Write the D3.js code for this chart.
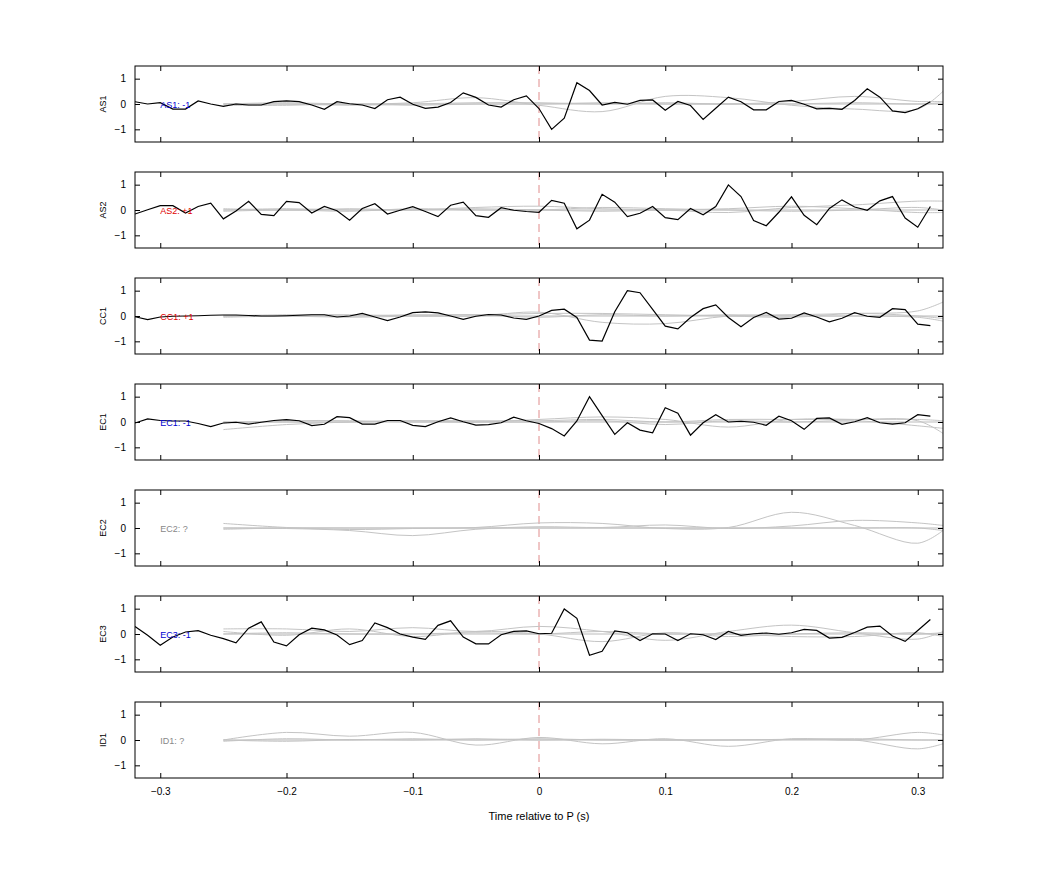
<!DOCTYPE html>
<html><head><meta charset="utf-8">
<script src="https://cdn.jsdelivr.net/npm/d3@7"></script>
<style>body{margin:0;background:#fff}text{font-family:"Liberation Sans",Arial,sans-serif}</style>
</head><body><svg id="c" width="1042" height="875"></svg>
<script>
const stations = ["AS1","AS2","CC1","EC1","EC2","EC3","ID1"];
const labels = ["AS1: -1","AS2: +1","CC1: +1","EC1: -1","EC2: ?","EC3: -1","ID1: ?"];
const labelKinds = ["neg","pos","pos","neg","unk","neg","unk"];
const xTicks = [-0.3,-0.2,-0.1,0,0.1,0.2,0.3];
const yTicks = [-1,0,1];
const blackStart = -0.32, blackStep = 0.01;
const blackAS1 = [0.09,0,0.05,-0.2,-0.2,0.12,0,-0.09,0,-0.04,-0.04,0.09,0.12,0.09,-0.04,-0.21,0.09,0.01,-0.04,-0.18,0.17,0.27,-0.01,-0.17,-0.12,0.06,0.44,0.26,-0.04,-0.12,0.17,0.32,-0.18,-1.0,-0.56,0.84,0.53,-0.04,0.06,-0.01,0.14,0.16,-0.25,0.1,-0.06,-0.61,-0.17,0.27,0.09,-0.23,-0.23,0.1,0.14,-0.01,-0.19,-0.17,-0.21,0.14,0.6,0.27,-0.27,-0.34,-0.19,0.09];
const blackAS2 = [-0.16,0.01,0.17,0.17,-0.12,0.14,0.27,-0.35,-0.04,0.34,-0.17,-0.22,0.34,0.29,-0.12,0.14,-0.03,-0.4,0.06,0.25,-0.16,-0.01,0.13,-0.06,-0.26,0.19,0.31,-0.22,-0.29,0.09,-0.01,-0.06,-0.09,0.38,0.27,-0.74,-0.4,0.62,0.31,-0.26,-0.13,0.14,-0.3,-0.38,0.06,-0.19,0.14,0.99,0.53,-0.42,-0.62,-0.09,0.52,-0.21,-0.58,0.06,0.4,0.12,-0.01,0.36,0.53,-0.32,-0.68,0.14];
const blackCC1 = [-0.03,-0.14,-0.04,-0.01,0,0.01,0.03,0.04,0.04,0.02,0,0,0.01,0.03,0.05,0.05,-0.04,0,0.1,-0.04,-0.18,-0.04,0.13,0.16,0.12,0,-0.13,-0.01,0.06,0.04,-0.08,-0.13,0,0.22,0.27,-0.06,-0.95,-0.99,0.17,1.0,0.92,0.26,-0.4,-0.51,-0.06,0.29,0.44,-0.06,-0.42,-0.06,0.14,-0.12,-0.09,0.12,-0.04,-0.23,-0.09,0.13,-0.01,-0.05,0.29,0.25,-0.32,-0.38];
const blackEC1 = [-0.04,0.12,0.06,0.04,0.04,-0.06,-0.18,-0.04,-0.01,-0.08,-0.01,0.06,0.09,0.05,-0.14,-0.09,0.21,0.17,-0.08,-0.08,0.06,0.06,-0.13,-0.18,0.01,0.16,0.01,-0.12,-0.1,-0.03,0.19,0.05,-0.06,-0.26,-0.55,0.04,1.0,0.25,-0.49,-0.03,-0.32,-0.43,0.56,0.35,-0.52,-0.03,0.29,0,0.03,-0.01,-0.13,0.23,0.05,-0.29,0.14,0.16,-0.09,0.01,0.17,-0.03,-0.08,-0.03,0.29,0.23];
const blackEC3 = [0.3,-0.05,-0.44,-0.12,0.08,0.13,-0.05,-0.18,-0.35,0.23,0.48,-0.32,-0.47,-0.03,0.23,0.16,-0.04,-0.42,-0.26,0.44,0.25,0,-0.12,-0.21,0.34,0.52,-0.12,-0.39,-0.39,-0.03,0.1,0.12,0.01,0.03,0.99,0.62,-0.84,-0.68,0.12,0.05,-0.26,0.01,0,-0.26,0.01,-0.03,-0.22,0.1,-0.05,0.01,0.04,-0.01,0.05,0.18,0.14,-0.16,-0.13,0.06,0.27,0.31,-0.08,-0.29,0.14,0.57];
const blackSeries = [blackAS1, blackAS2, blackCC1, blackEC1, null, blackEC3, null];
const grayT = [-0.25,-0.2,-0.15,-0.1,-0.05,0,0.05,0.1,0.15,0.2,0.25,0.3,0.32];
const grayZero = [0,0,0,0,0,0,0,0,0,0,0,0,0];
const grayAS1 = [[0,0.05,0,0.05,0.25,-0.05,-0.3,0.3,0.25,-0.05,-0.2,-0.2,0.5],[0,0,-0.05,0,0.05,0.05,0,0.05,0,0.1,0.3,0.1,0.1],[-0.05,-0.05,0,-0.05,0,0,0.05,0,0,0,0.05,0,0.05]];
const grayAS2 = [[0.05,0,0.05,0,0.1,0.15,0.05,0,-0.1,0.1,0.2,0.35,0.35],[-0.05,0,-0.05,0.05,0,0,0.1,0.05,0,-0.05,0,0.1,0],[0,0.05,0,0,0.05,0,-0.05,0,0.05,0.15,0.05,-0.1,-0.1]];
const grayCC1 = [[0,0.05,0.05,0,0,0.15,-0.25,-0.3,0,0.05,0.1,0.2,0.55],[-0.05,0,0,0.05,0.05,0.1,0.1,0.05,0,-0.05,0.1,0,-0.1],[0,0,-0.05,0,0.05,-0.05,0.05,0,0.05,0,0,-0.05,-0.2]];
const grayEC1 = [[-0.3,-0.1,0,0.05,0,0.1,0.2,0.1,-0.2,0.1,0.1,0.05,-0.45],[-0.05,0.05,0.05,0,0,0,0.05,-0.1,0.05,0,0.05,-0.15,-0.25],[0,0,0,0.05,0.05,0.05,0.1,0,0.1,0.1,0.1,0.1,0.05]];
const grayEC2 = [[0.18,0.02,-0.06,-0.02,0.02,0.2,0.18,-0.02,0.02,0.62,0.1,-0.6,-0.1],[0,-0.02,-0.1,-0.3,-0.05,0.05,0.02,0.12,-0.02,0.08,0.3,0.2,0.1],[-0.05,0,0,0,0,0,0,0,0,0,0,0,-0.1]];
const grayEC3 = [[0.2,0.2,0.1,0.25,0.1,0.3,0.1,-0.25,0.1,0.35,0.05,-0.2,0.1],[0.1,-0.05,0.2,-0.1,0.1,0,-0.3,0.05,-0.1,0,0.05,0,0.05],[0,0.05,0,0,0.05,0,0.1,0,0,-0.1,-0.1,0.05,-0.1]];
const grayID1 = [[0,0.3,0.15,0.3,-0.2,0.1,-0.15,0.05,-0.25,0.05,0,0.3,0.2],[-0.05,0.05,0,0.05,0,0.05,0,0,0,0.02,0,-0.35,-0.15],[0,-0.05,0.02,0,0.05,0,0.03,0,0,0.03,0.05,0,0]];
const graySeries = [grayAS1, grayAS2, grayCC1, grayEC1, grayEC2, grayEC3, grayID1];

const svg = d3.select("#c");
const L = 135, R = 943, tops = [66,172,278,384,490,596,702], H = 76;
const x = d3.scaleLinear().domain([-0.32,0.32]).range([L,R]);
const kindColor = {neg:"#0000d0", pos:"#e00000", unk:"#888"};

stations.forEach((s,i)=>{
  const top = tops[i];
  const y = d3.scaleLinear().domain([-1.5,1.5]).range([top+H, top]);
  const g = svg.append("g");
  const clipId = "clip"+i;
  g.append("clipPath").attr("id",clipId).append("rect").attr("x",L).attr("y",top).attr("width",R-L).attr("height",H);
  const pg = g.append("g").attr("clip-path",`url(#${clipId})`);
  // zero dashed line
  pg.append("line").attr("x1",x(0)).attr("x2",x(0)).attr("y1",top).attr("y2",top+H)
    .attr("stroke","#e08c8c").attr("stroke-dasharray","8,5").attr("stroke-width",1);
  const gl = d3.line().x((d,j)=>x(grayT[j])).y(d=>y(d)).curve(d3.curveCatmullRom);
  pg.append("path").attr("d",gl(grayZero)).attr("fill","none").attr("stroke","#bbb").attr("stroke-width",1.2);
  graySeries[i].forEach(arr=>{
    pg.append("path").attr("d",gl(arr)).attr("fill","none").attr("stroke","#c4c4c4").attr("stroke-width",1);
  });
  g.append("text").attr("x",x(-0.3)).attr("y",y(0)+3.5).attr("font-size",9)
    .attr("fill",kindColor[labelKinds[i]]).text(labels[i]);
  if (blackSeries[i]) {
    const bl = d3.line().x((d,j)=>x(blackStart+blackStep*j)).y(d=>y(d));
    pg.append("path").attr("d",bl(blackSeries[i])).attr("fill","none").attr("stroke","#000").attr("stroke-width",1.2);
  }
  // axes
  g.append("g").attr("transform",`translate(${L},0)`).call(d3.axisLeft(y).tickValues(yTicks).tickSize(-5).tickPadding(9).tickFormat(d3.format("d")))
    .call(a=>{a.select(".domain").remove();a.selectAll("text").attr("font-size",10).attr("font-family","Liberation Sans, Arial");});
  g.append("g").attr("transform",`translate(${R},0)`).call(d3.axisRight(y).tickValues(yTicks).tickSize(-5).tickFormat(""))
    .call(a=>a.select(".domain").remove());
  g.append("g").attr("transform",`translate(0,${top})`).call(d3.axisTop(x).tickValues(xTicks).tickSize(-5).tickFormat(""))
    .call(a=>a.select(".domain").remove());
  const bx = g.append("g").attr("transform",`translate(0,${top+H})`).call(d3.axisBottom(x).tickValues(xTicks).tickSize(-5).tickPadding(10).tickFormat(d=>d===0?"0":d3.format(".1f")(d)))
    .call(a=>{a.select(".domain").remove();a.selectAll("text").attr("font-size",10).attr("font-family","Liberation Sans, Arial");});
  if (i<stations.length-1) bx.selectAll("text").remove();
  g.append("rect").attr("x",L).attr("y",top).attr("width",R-L).attr("height",H).attr("fill","none").attr("stroke","#000").attr("stroke-width",1);
  g.append("text").attr("transform",`translate(106,${y(0)}) rotate(-90)`).attr("text-anchor","middle").attr("font-size",9).text(s);
});
svg.append("text").attr("x",x(0)).attr("y",820).attr("text-anchor","middle").attr("font-size",11).text("Time relative to P (s)");
</script></body></html>
